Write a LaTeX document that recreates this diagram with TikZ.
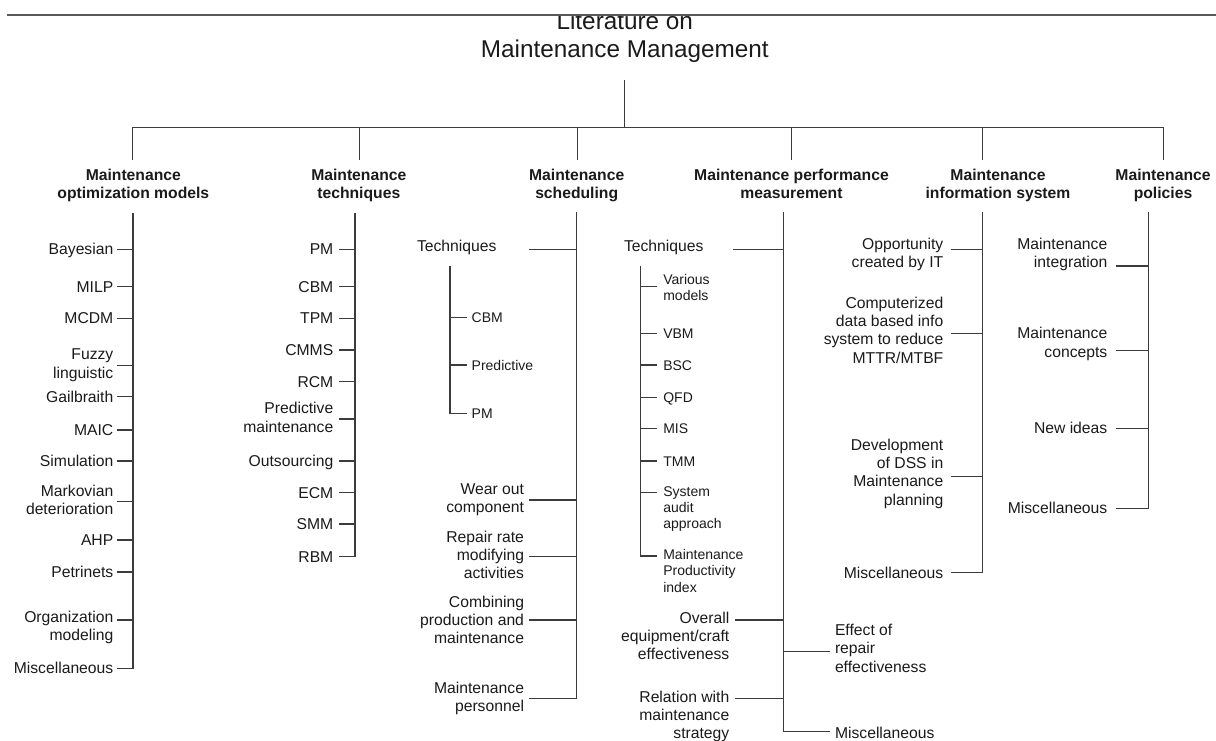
\documentclass[tikz,border=0pt]{standalone}
\usepackage{fontspec}
\setmainfont{Liberation Sans}
\definecolor{ink}{HTML}{1A1A1A}
\definecolor{rulec}{HTML}{3C3C3C}
\definecolor{topc}{HTML}{5A5A5A}
% struts that fix the height of the first line and the depth of the last one
\newcommand\nstrut{\rule[-3.5pt]{0pt}{18.3pt}}
\newcommand\sstrut{\rule[-3.1pt]{0pt}{16.2pt}}
\newcommand\tstrut{\rule[-5.45pt]{0pt}{28.3pt}}
% tick from a label to a spine: [yshift]{node}{gap}{spine coordinate}
\newcommand\rtick[4][0pt]{\draw[conn] ([xshift=#3,yshift=#1]#2.east) coordinate (tk) -- (tk -| #4);}
\newcommand\ltick[4][0pt]{\draw[conn] ([xshift=-#3,yshift=#1]#2.west) coordinate (tk) -- (tk -| #4);}
\tikzset{
  txt/.style={inner sep=0pt, outer sep=0pt, text=ink},
  lbl/.style={txt, font=\fontsize{15.7}{18.3}\selectfont,
    execute at begin node=\nstrut, execute at end node=\nstrut},
  rlbl/.style={lbl, align=right, anchor=east},
  llbl/.style={lbl, align=left, anchor=west},
  slbl/.style={txt, font=\fontsize{14}{16.2}\selectfont, align=left, anchor=west,
    execute at begin node=\sstrut, execute at end node=\sstrut},
  head/.style={txt, font=\fontsize{15.7}{18.3}\selectfont\bfseries, align=center,
    execute at begin node=\nstrut, execute at end node=\nstrut},
  ttl/.style={txt, font=\fontsize{24.3}{28.3}\selectfont, align=center,
    execute at begin node=\tstrut, execute at end node=\tstrut},
  conn/.style={draw=rulec, line width=1.3pt},
}
\begin{document}
\begin{tikzpicture}[x=1pt,y=-1pt]
\useasboundingbox (0,0) rectangle (1216,740);

% ---------- root ----------
\node[ttl] (root) at (624.8,37.2) {Literature on\\Maintenance Management};
\fill[white] (0,0) rectangle (1216,15.2);
\coordinate (tl) at (7,15);
\coordinate (tr) at (1216,15);
\draw[topc, line width=1.5pt] (tl) -- (tr);

\coordinate (stem) at (624.3,80);
\coordinate (b1) at (132.8,127.3);
\coordinate (b2) at (359.3,127.3);
\coordinate (b3) at (577.3,127.3);
\coordinate (b4) at (791.5,127.3);
\coordinate (b5) at (982.7,127.3);
\coordinate (b6) at (1163.5,127.3);
\coordinate (e1) at (132.8,160);
\coordinate (e2) at (359.3,160);
\coordinate (e3) at (577.3,160);
\coordinate (e4) at (791.5,160);
\coordinate (e5) at (982.7,160);
\coordinate (e6) at (1163.5,160);
\draw[conn] (stem) -- (stem |- b1);
\draw[conn] (e1) |- (b6) -- (e6);
\draw[conn] (b2) -- (e2);
\draw[conn] (b3) -- (e3);
\draw[conn] (b4) -- (e4);
\draw[conn] (b5) -- (e5);

% ---------- headings ----------
\node[head] (h1) at (133.3,185.8) {Maintenance\\optimization models};
\node[head] (h2) at (358.8,185.8) {Maintenance\\techniques};
\node[head] (h3) at (576.7,185.8) {Maintenance\\scheduling};
\node[head] (h4) at (791.5,185.8) {Maintenance performance\\measurement};
\node[head] (h5) at (998,185.8) {Maintenance\\information system};
\node[head] (h6) at (1163,185.8) {Maintenance\\policies};

% ---------- column 1: optimization models ----------
\coordinate (c1) at (133,212.5);
\node[rlbl] (bay)   at (113.3,249.3) {Bayesian};
\node[rlbl] (milp)  at (113.3,286.7) {MILP};
\node[rlbl] (mcdm)  at (113.3,318.3) {MCDM};
\node[rlbl] (fuzzy) at (113.3,365.3) {Fuzzy\\linguistic};
\node[rlbl] (gail)  at (113.3,396.7) {Gailbraith};
\node[rlbl] (maic)  at (113.3,430) {MAIC};
\node[rlbl] (sim)   at (113.3,461) {Simulation};
\node[rlbl] (mark)  at (113.3,501.8) {Markovian\\deterioration};
\node[rlbl] (ahp)   at (113.3,540) {AHP};
\node[rlbl] (petri) at (113.3,572) {Petrinets};
\node[rlbl] (org)   at (113.3,627.5) {Organization\\modeling};
\node[rlbl] (misc1) at (113.3,668.3) {Miscellaneous};
\draw[conn] (c1) |- ([xshift=3.4pt]misc1.east);
\rtick{bay}{3.4pt}{c1}
\rtick{milp}{3.4pt}{c1}
\rtick{mcdm}{3.4pt}{c1}
\rtick{fuzzy}{3.4pt}{c1}
\rtick{gail}{3.4pt}{c1}
\rtick{maic}{3.4pt}{c1}
\rtick{sim}{3.4pt}{c1}
\rtick{mark}{3.4pt}{c1}
\rtick{ahp}{3.4pt}{c1}
\rtick{petri}{3.4pt}{c1}
\rtick[7.5pt]{org}{3.4pt}{c1}

% ---------- column 2: techniques ----------
\coordinate (c2) at (355,212.5);
\node[rlbl] (pm2)   at (333.3,249.3) {PM};
\node[rlbl] (cbm2)  at (333.3,286.7) {CBM};
\node[rlbl] (tpm2)  at (333.3,318.3) {TPM};
\node[rlbl] (cmms)  at (333.3,350) {CMMS};
\node[rlbl] (rcm)   at (333.3,381.7) {RCM};
\node[rlbl] (predm) at (333.3,419) {Predictive\\maintenance};
\node[rlbl] (outs)  at (333.3,461) {Outsourcing};
\node[rlbl] (ecm)   at (333.3,492.7) {ECM};
\node[rlbl] (smm)   at (333.3,524) {SMM};
\node[rlbl] (rbm)   at (333.3,556.7) {RBM};
\draw[conn] (c2) |- ([xshift=6pt]rbm.east);
\rtick{pm2}{6pt}{c2}
\rtick{cbm2}{6pt}{c2}
\rtick{tpm2}{6pt}{c2}
\rtick{cmms}{6pt}{c2}
\rtick{rcm}{6pt}{c2}
\rtick{predm}{6pt}{c2}
\rtick{outs}{6pt}{c2}
\rtick{ecm}{6pt}{c2}
\rtick{smm}{6pt}{c2}

% ---------- column 3: scheduling ----------
\coordinate (c3) at (576.7,212);
\node[llbl] (tech3) at (417,246) {Techniques};
\coordinate (s3) at (450,266);
\node[slbl] (cbm3)  at (471.7,317.7) {CBM};
\node[slbl] (pred3) at (471.7,365) {Predictive};
\node[slbl] (pm3)   at (471.7,413.3) {PM};
\draw[conn] (s3) |- ([xshift=-5pt]pm3.west);
\ltick{cbm3}{5pt}{s3}
\ltick{pred3}{5pt}{s3}
\node[rlbl] (wear)   at (524,500) {Wear out\\component};
\node[rlbl] (repair) at (524,556.7) {Repair rate\\modifying\\activities};
\node[rlbl] (comb)   at (524,621.7) {Combining\\production and\\maintenance};
\node[rlbl] (pers)   at (524,698.8) {Maintenance\\personnel};
\draw[conn] (c3) |- ([xshift=5.3pt]pers.east);
\rtick[-3.3pt]{tech3}{32.3pt}{c3}
\rtick{wear}{5.3pt}{c3}
\rtick{repair}{5.3pt}{c3}
\rtick[1.7pt]{comb}{5.3pt}{c3}

% ---------- column 4: performance measurement ----------
\coordinate (c4) at (783.3,212);
\node[llbl] (tech4) at (624,246) {Techniques};
\coordinate (s4) at (640.7,266);
\node[slbl] (var)  at (663.3,289) {Various\\models};
\node[slbl] (vbm)  at (663.3,333.3) {VBM};
\node[slbl] (bsc)  at (663.3,365) {BSC};
\node[slbl] (qfd)  at (663.3,397.3) {QFD};
\node[slbl] (mis)  at (663.3,428.3) {MIS};
\node[slbl] (tmm)  at (663.3,461) {TMM};
\node[slbl] (sysa) at (663.3,509) {System\\audit\\approach};
\node[slbl] (mpi)  at (663.3,572.3) {Maintenance\\Productivity\\index};
\draw[conn] (s4) |- ([xshift=-6.6pt,yshift=16.3pt]mpi.west);
\ltick[2.3pt]{var}{6.6pt}{s4}
\ltick{vbm}{6.6pt}{s4}
\ltick{bsc}{6.6pt}{s4}
\ltick{qfd}{6.6pt}{s4}
\ltick{mis}{6.6pt}{s4}
\ltick{tmm}{6.6pt}{s4}
\ltick[16.3pt]{sysa}{6.6pt}{s4}
\node[rlbl] (overall)  at (729.3,637.4) {Overall\\equipment/craft\\effectiveness};
\node[rlbl] (relation) at (729.3,716.7) {Relation with\\maintenance\\strategy};
\node[llbl] (effect)   at (835,650) {Effect of\\repair\\effectiveness};
\node[llbl] (misc4)    at (835,732.7) {Miscellaneous};
\draw[conn] (c4) |- ([xshift=-5pt,yshift=1pt]misc4.west);
\rtick[-3.3pt]{tech4}{30pt}{c4}
\rtick[17.4pt]{overall}{5.7pt}{c4}
\rtick[18.4pt]{relation}{5.7pt}{c4}
\ltick[-1.7pt]{effect}{5pt}{c4}

% ---------- column 5: information system ----------
\coordinate (c5) at (982.7,212);
\node[rlbl] (opp)   at (943.3,254.5) {Opportunity\\created by IT};
\node[rlbl] (comp)  at (943.3,331.8) {Computerized\\data based info\\system to reduce\\MTTR/MTBF};
\node[rlbl] (dss)   at (943.3,473.9) {Development\\of DSS in\\Maintenance\\planning};
\node[rlbl] (misc5) at (943.3,573.3) {Miscellaneous};
\draw[conn] (c5) |- ([xshift=7.4pt,yshift=0.6pt]misc5.east);
\rtick[5.2pt]{opp}{7.4pt}{c5}
\rtick[-1.5pt]{comp}{7.4pt}{c5}
\rtick[-2.8pt]{dss}{7.4pt}{c5}

% ---------- column 6: policies ----------
\coordinate (c6) at (1148.5,212);
\node[rlbl] (integ) at (1107.3,254.8) {Maintenance\\integration};
\node[rlbl] (conc)  at (1107.3,344.2) {Maintenance\\concepts};
\node[rlbl] (newi)  at (1107.3,428.3) {New ideas};
\node[rlbl] (misc6) at (1107.3,508.3) {Miscellaneous};
\draw[conn] (c6) |- ([xshift=8.7pt]misc6.east);
\rtick[-11.2pt]{integ}{8.7pt}{c6}
\rtick[-6.5pt]{conc}{8.7pt}{c6}
\rtick{newi}{8.7pt}{c6}
\end{tikzpicture}
\end{document}
